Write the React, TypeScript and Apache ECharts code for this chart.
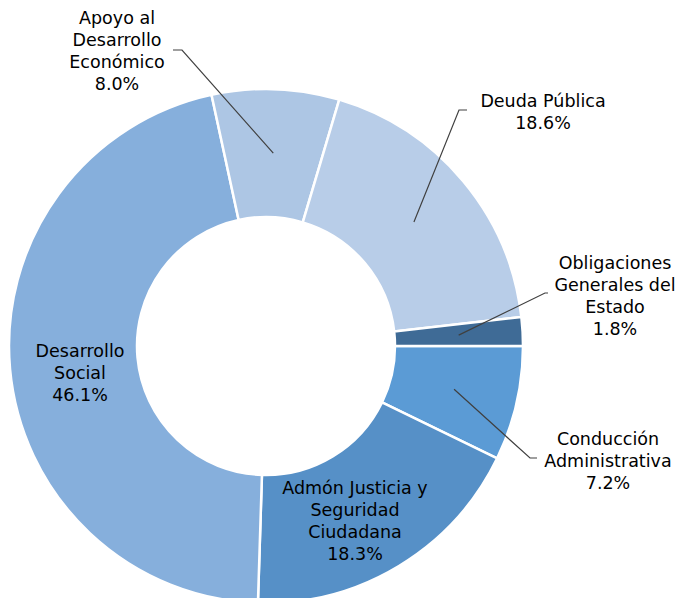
import React, { useEffect, useRef } from "react";
import * as echarts from "echarts";

// Slices in clockwise order starting at 3 o'clock
const categories = [
  "Conducción\nAdministrativa",
  "Admón Justicia y\nSeguridad\nCiudadana",
  "Desarrollo\nSocial",
  "Apoyo al\nDesarrollo\nEconómico",
  "Deuda Pública",
  "Obligaciones\nGenerales del\nEstado",
];
const values = [7.2, 18.3, 46.1, 8.0, 18.6, 1.8];
const colors = ["#5B9BD5", "#5690C7", "#86AFDC", "#ADC6E4", "#B8CDE8", "#3F6B96"];

// label layout (centre of text block, elbow and end of the leader line)
const labelPos: { x: number; y: number; line?: number[][] }[] = [
  { x: 608, y: 461, line: [[530, 458], [537, 458]] },
  { x: 355, y: 521 },
  { x: 80, y: 373 },
  { x: 117, y: 51, line: [[182, 50], [173, 50]] },
  { x: 543, y: 112, line: [[459, 110], [467, 110]] },
  { x: 615, y: 296, line: [[545, 293], [548, 293]] },
];

const CX = 266;
const CY = 346;
const R_IN = 129;
const R_OUT = 257;

export default function App() {
  const ref = useRef<HTMLDivElement>(null);
  useEffect(() => {
    if (!ref.current) return;
    const chart = echarts.init(ref.current, undefined, { renderer: "svg" });
    const total = values.reduce((a, b) => a + b, 0);
    const midAngles: number[] = [];
    let acc = 0;
    values.forEach((v) => {
      const a0 = (acc / total) * 360;
      acc += v;
      const a1 = (acc / total) * 360;
      midAngles.push((a0 + a1) / 2);
    });
    const rMid = (R_IN + R_OUT) / 2;
    const base = {
      type: "pie",
      center: [CX, CY],
      radius: [R_IN, R_OUT],
      startAngle: 0,
      clockwise: true,
      avoidLabelOverlap: false,
      minShowLabelAngle: 0,
      silent: true,
    };
    chart.setOption({
      animation: false,
      backgroundColor: "#ffffff",
      series: [
        {
          ...base,
          z: 2,
          itemStyle: { borderColor: "#ffffff", borderWidth: 2.5 },
          label: { show: false },
          labelLine: { show: false },
          data: categories.map((name, i) => ({
            name,
            value: values[i],
            itemStyle: { color: colors[i] },
          })),
        },
        {
          ...base,
          z: 3,
          itemStyle: { color: "rgba(0,0,0,0)", borderWidth: 0 },
          label: {
            show: true,
            position: "outside",
            formatter: (p: any) => `${p.name}\n${values[p.dataIndex].toFixed(1)}%`,
            fontFamily: "DejaVu Sans",
            fontSize: 17.5,
            lineHeight: 22,
            color: "#000000",
            align: "center",
          },
          labelLine: {
            show: true,
            lineStyle: { color: "#404040", width: 1.2 },
          },
          labelLayout: (params: any) => {
            const i = params.dataIndex;
            const lp = labelPos[i];
            const res: any = {
              x: lp.x,
              y: lp.y,
              align: "center",
              verticalAlign: "middle",
            };
            if (lp.line) {
              const a = (midAngles[i] * Math.PI) / 180;
              const start = [CX + rMid * Math.cos(a), CY + rMid * Math.sin(a)];
              res.labelLinePoints = [start, lp.line[0], lp.line[1]];
            }
            return res;
          },
          data: categories.map((name, i) => ({
            name,
            value: values[i],
            labelLine: { show: !!labelPos[i].line },
          })),
        },
      ],
    });
    return () => chart.dispose();
  }, []);
  return (
    <div
      ref={ref}
      style={{ position: "absolute", left: 0, top: 0, width: 681, height: 598 }}
    />
  );
}
